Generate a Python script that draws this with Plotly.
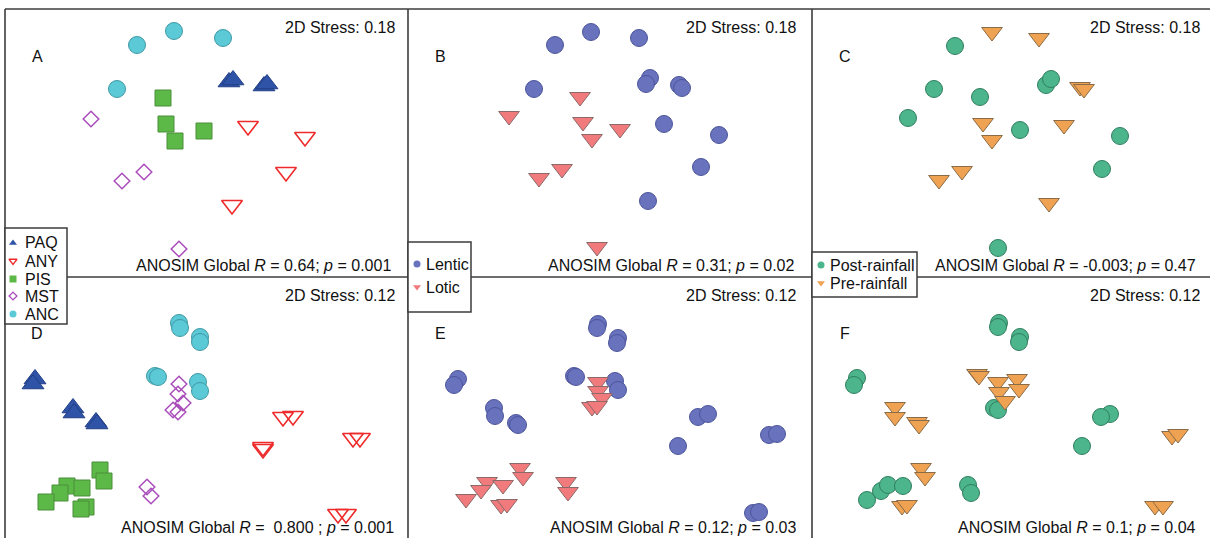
import plotly.graph_objects as go

W, H = 1210, 538
FONT = "Liberation Sans, Arial, sans-serif"

# ---------------- data (NMDS scores; per-panel units) ----------------
# Panel A / D groups: PAQ, ANY, PIS, MST, ANC
a_paq_x = [229, 233, 264, 267]
a_paq_y = [82, 80, 86, 84]
a_any_x = [248, 305, 286, 232]
a_any_y = [126, 137, 172, 205]
a_pis_x = [163, 166, 175, 204]
a_pis_y = [98, 124, 141, 131]
a_mst_x = [91, 144, 122, 179]
a_mst_y = [119, 172, 181, 249]
a_anc_x = [137, 174, 223, 117]
a_anc_y = [45, 31, 38, 89]

b_lentic_x = [555, 591, 639, 534, 650, 646, 679, 682, 664, 719, 701, 648]
b_lentic_y = [45, 32, 38, 89, 78, 84, 85, 88, 124, 135, 167, 201]
b_lotic_x = [580, 509, 583, 592, 620, 562, 539, 597]
b_lotic_y = [97, 116, 122, 139, 129, 169, 178, 247]

c_post_x = [955, 934, 980, 908, 1020, 1046, 1051, 1120, 1102, 998]
c_post_y = [46, 89, 97, 118, 130, 85, 79, 136, 169, 248]
c_pre_x = [992, 1039, 1080, 1084, 983, 992, 1064, 962, 939, 1049]
c_pre_y = [32, 38, 87, 89, 123, 140, 125, 171, 180, 203]

d_paq_x = [35, 33, 73, 74, 96, 97]
d_paq_y = [379, 384, 408, 413, 422, 424]
d_any_x = [283, 293, 263, 263, 353, 360, 338, 346]
d_any_y = [417, 416, 449, 447, 438, 438, 514, 514]
d_pis_x = [100, 104, 67, 82, 60, 46, 86, 81]
d_pis_y = [470, 481, 486, 488, 493, 502, 507, 509]
d_mst_x = [179, 178, 183, 173, 178, 147, 151]
d_mst_y = [384, 394, 403, 410, 412, 487, 496]
d_anc_x = [179, 180, 200, 200, 155, 158, 198, 200]
d_anc_y = [323, 328, 337, 342, 376, 377, 382, 391]

e_lentic_x = [598, 597, 618, 617, 458, 454, 574, 576, 615, 618, 494, 495, 516, 518,
              698, 708, 678, 769, 777, 753, 759]
e_lentic_y = [324, 328, 338, 343, 379, 385, 376, 377, 381, 390, 408, 416, 423, 425,
              417, 414, 446, 435, 434, 513, 512]
e_lotic_x = [598, 598, 602, 592, 597, 520, 523, 487, 503, 481, 466, 501, 507, 566, 568]
e_lotic_y = [382, 391, 398, 407, 406, 468, 477, 482, 485, 490, 499, 505, 504, 482, 492]

f_post_x = [999, 998, 1020, 1019, 857, 854, 994, 998, 1110, 1101, 1082, 867, 881, 888,
            903, 968, 971]
f_post_y = [323, 327, 337, 342, 378, 385, 408, 410, 414, 417, 446, 500, 491, 485,
            486, 485, 493]
f_pre_x = [977, 979, 998, 1017, 1019, 999, 1005, 895, 895, 917, 919, 921, 925, 902, 907,
           1172, 1178, 1155, 1163]
f_pre_y = [374, 376, 382, 379, 389, 392, 401, 407, 417, 422, 425, 468, 477, 506, 505,
           436, 434, 506, 506]

panel_labels = ["A", "B", "C", "D", "E", "F"]
stress_text = ["2D Stress: 0.18", "2D Stress: 0.18", "2D Stress: 0.18",
               "2D Stress: 0.12", "2D Stress: 0.12", "2D Stress: 0.12"]
anosim_text = ["ANOSIM Global <i>R</i> = 0.64; <i>p</i> = 0.001",
               "ANOSIM Global <i>R</i> = 0.31; <i>p</i> = 0.02",
               "ANOSIM Global <i>R</i> = -0.003; <i>p</i> = 0.47",
               "ANOSIM Global <i>R</i> =  0.800 ; <i>p</i> = 0.001",
               "ANOSIM Global <i>R</i> = 0.12; <i>p</i> = 0.03",
               "ANOSIM Global <i>R</i> = 0.1; <i>p</i> = 0.04"]
site_names = ["PAQ", "ANY", "PIS", "MST", "ANC"]
habitat_names = ["Lentic", "Lotic"]
season_names = ["Post-rainfall", "Pre-rainfall"]

# ---------------- styles ----------------
STY = {
    "PAQ": dict(symbol="triangle-up", size=19, color="#2F53A6", line=dict(color="#223f86", width=1)),
    "ANY": dict(symbol="triangle-down-open", size=18, color="#EE2A2A", line=dict(color="#EE2A2A", width=1.6)),
    "PIS": dict(symbol="square", size=16, color="#5CB947", line=dict(color="#4a8f3a", width=1)),
    "MST": dict(symbol="diamond-open", size=12, color="#A94DBA", line=dict(color="#A94DBA", width=1.5)),
    "ANC": dict(symbol="circle", size=17, color="#5CC9D6", line=dict(color="#3f9aa5", width=1)),
    "Lentic": dict(symbol="circle", size=17, color="#6872BD", line=dict(color="#4d569b", width=1)),
    "Lotic": dict(symbol="triangle-down", size=18, color="#F07A7C", line=dict(color="#8d6a6a", width=1)),
    "Post-rainfall": dict(symbol="circle", size=17, color="#4DB58B", line=dict(color="#2f7f60", width=1)),
    "Pre-rainfall": dict(symbol="triangle-down", size=18, color="#EFA252", line=dict(color="#8a6c48", width=1)),
}

col_edges = [5, 408, 812, 1210]
row_edges = [9, 277, 538]


def px(x):
    return x / W


def py(y):
    return 1 - y / H


fig = go.Figure()

panels = [
    [("PAQ", a_paq_x, a_paq_y), ("ANY", a_any_x, a_any_y), ("PIS", a_pis_x, a_pis_y),
     ("MST", a_mst_x, a_mst_y), ("ANC", a_anc_x, a_anc_y)],
    [("Lentic", b_lentic_x, b_lentic_y), ("Lotic", b_lotic_x, b_lotic_y)],
    [("Post-rainfall", c_post_x, c_post_y), ("Pre-rainfall", c_pre_x, c_pre_y)],
    [("PAQ", d_paq_x, d_paq_y), ("ANY", d_any_x, d_any_y), ("PIS", d_pis_x, d_pis_y),
     ("MST", d_mst_x, d_mst_y), ("ANC", d_anc_x, d_anc_y)],
    [("Lentic", e_lentic_x, e_lentic_y), ("Lotic", e_lotic_x, e_lotic_y)],
    [("Post-rainfall", f_post_x, f_post_y), ("Pre-rainfall", f_pre_x, f_pre_y)],
]

annotations = []
for i, groups in enumerate(panels):
    r, c = divmod(i, 3)
    ax = "" if i == 0 else str(i + 1)
    x0, x1 = col_edges[c], col_edges[c + 1]
    y0, y1 = row_edges[r], row_edges[r + 1]
    fig.update_layout(**{
        f"xaxis{ax}": dict(domain=[px(x0), px(x1)], range=[x0, x1], visible=False,
                           anchor=f"y{ax}", fixedrange=True),
        f"yaxis{ax}": dict(domain=[py(y1), py(y0)], range=[y1, y0], visible=False,
                           anchor=f"x{ax}", fixedrange=True),
    })
    for name, xs, ys in groups:
        s = STY[name]
        fig.add_trace(go.Scatter(
            x=xs, y=ys, mode="markers", name=name, showlegend=False,
            xaxis=f"x{ax}", yaxis=f"y{ax}",
            marker=dict(symbol=s["symbol"], size=s["size"], color=s["color"],
                        line=s["line"], opacity=1)))
    # texts
    right = [397, 798, 1202][c]
    ar = [[393, 796, 1198], [396, 798, 1198]][r][c]
    sy = [28, 295][r]
    ay = [265, 527][r]
    lx = [37, 440, 845][c]
    ly = [57, 333][r]
    annotations += [
        dict(text=stress_text[i], x=px(right), y=py(sy), xanchor="right", yanchor="middle"),
        dict(text=anosim_text[i], x=px(ar), y=py(ay), xanchor="right", yanchor="middle"),
        dict(text=panel_labels[i], x=px(lx), y=py(ly), xanchor="center", yanchor="middle"),
    ]

# ---------------- frame lines ----------------
LC = "#3d3d3d"
shapes = []
for xv in [5, 408, 812]:
    shapes.append(dict(type="line", xref="paper", yref="paper", x0=px(xv), x1=px(xv),
                       y0=py(9), y1=py(560), line=dict(color=LC, width=1.6), layer="below"))
shapes.append(dict(type="line", xref="paper", yref="paper", x0=px(5), x1=px(1230),
                   y0=py(9), y1=py(9), line=dict(color=LC, width=1.6), layer="below"))
shapes.append(dict(type="line", xref="paper", yref="paper", x0=px(5), x1=px(1230),
                   y0=py(277), y1=py(277), line=dict(color=LC, width=1.3), layer="below"))

# legend boxes (white, bordered) -- drawn below the traces so the keys show
legend_boxes = [(5, 228, 67, 324), (408, 242, 471, 312), (812, 252, 917, 297)]
for (bx0, by0, bx1, by1) in legend_boxes:
    shapes.append(dict(type="rect", xref="paper", yref="paper", x0=px(bx0), x1=px(bx1),
                       y0=py(by1), y1=py(by0), fillcolor="white",
                       line=dict(color=LC, width=1.5), layer="below"))

# ---------------- legend keys on an overlay axis ----------------
fig.update_layout(
    xaxis7=dict(domain=[0, 1], range=[0, W], visible=False, anchor="y7", fixedrange=True),
    yaxis7=dict(domain=[0, 1], range=[H, 0], visible=False, anchor="x7", fixedrange=True),
)
legend_sets = [
    (site_names, 13, 23, [243, 261, 279, 296, 314]),
    (habitat_names, 417, 424, [264, 287]),
    (season_names, 821, 828, [265, 283]),
]
for names, sx, tx, ys in legend_sets:
    for nm, yy in zip(names, ys):
        s = STY[nm]
        lw = 1.3 if "open" in s["symbol"] else 0
        fig.add_trace(go.Scatter(
            x=[sx], y=[yy], mode="markers", showlegend=False, xaxis="x7", yaxis="y7",
            marker=dict(symbol=s["symbol"], size=7 if "diamond" not in s["symbol"] else 6,
                        color=s["color"], line=dict(color=s["color"], width=lw)),
            hoverinfo="skip"))
        annotations.append(dict(text=nm, x=px(tx), y=py(yy), xanchor="left",
                                yanchor="middle", font=dict(size=16)))

for a in annotations:
    a.setdefault("xref", "paper")
    a.setdefault("yref", "paper")
    a.setdefault("showarrow", False)
    a.setdefault("font", dict(size=16))

fig.update_layout(
    width=W, height=H,
    margin=dict(l=0, r=0, t=0, b=0),
    paper_bgcolor="white", plot_bgcolor="rgba(0,0,0,0)",
    font=dict(family=FONT, color="#111111", size=16),
    showlegend=False,
    hovermode=False,
    shapes=shapes,
    annotations=annotations,
)

fig.write_html("out.html", config={"displayModeBar": False},
               post_script="document.body.style.margin='0';document.body.style.padding='0';")
